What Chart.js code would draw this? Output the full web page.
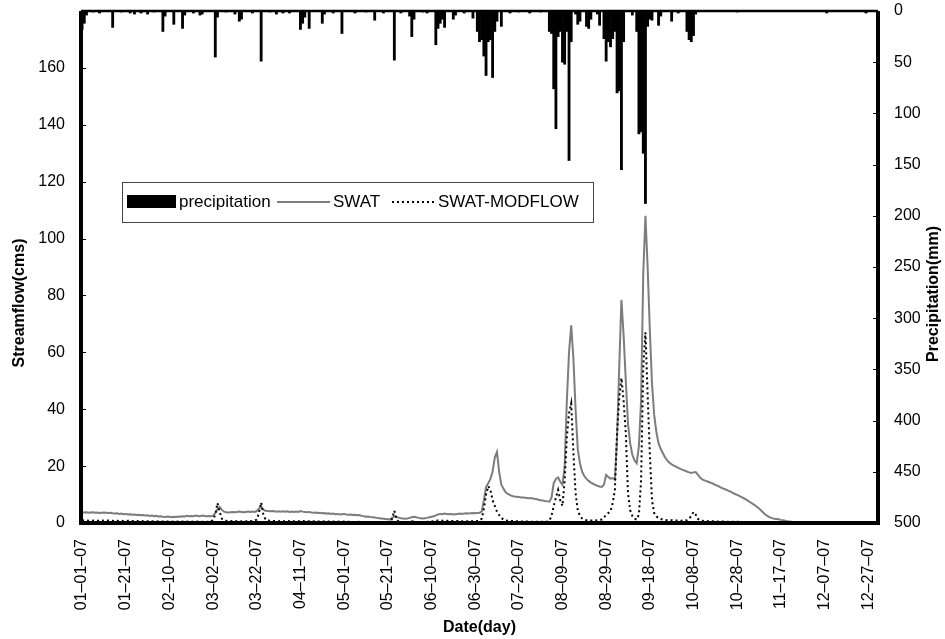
<!DOCTYPE html>
<html>
<head>
<meta charset="utf-8">
<script src="https://cdn.jsdelivr.net/npm/chart.js@4.4.1/dist/chart.umd.min.js"></script>
<style>
  html, body { margin: 0; padding: 0; background: #fff; }
  #wrap { width: 945px; height: 639px; }
</style>
</head>
<body>
<div id="wrap"><canvas id="flujo" width="945" height="639"></canvas></div>
<script>
// ---- daily data, 2007 (day index 0 = 01-01-07) ----

// streamflow, SWAT (cms)
const swat = [
  3.8,3.7,3.8,3.6,3.7,3.8,3.6,3.7,3.5,3.6,      // 0
  3.7,3.6,3.5,3.6,3.4,3.3,3.4,3.2,3.3,3.1,
  3.2,3.0,3.1,2.9,3.0,2.8,2.9,2.7,2.8,2.6,      // 20
  2.7,2.5,2.6,2.4,2.5,2.3,2.4,2.2,2.1,2.3,
  2.2,2.0,2.2,2.1,2.3,2.2,2.4,2.3,2.5,2.4,      // 40
  2.5,2.4,2.6,2.5,2.4,2.6,2.5,2.4,2.5,2.4,
  2.6,3.5,4.8,5.7,4.6,4.0,3.8,3.7,3.8,3.9,      // 60
  3.8,3.9,4.0,3.9,3.8,3.9,4.0,3.9,4.0,3.9,
  4.2,5.0,5.8,4.7,4.3,4.2,4.1,4.2,4.1,4.0,      // 80
  4.1,4.0,4.1,4.0,4.1,3.9,4.0,3.9,4.0,3.9,
  4.2,4.0,3.9,3.8,3.9,3.7,3.6,3.7,3.5,3.6,      // 100
  3.4,3.5,3.3,3.4,3.2,3.3,3.1,3.2,3.0,3.1,
  3.2,3.0,2.9,3.0,2.8,2.9,2.7,2.8,2.5,2.4,      // 120
  2.2,2.3,2.1,2.0,1.9,1.8,1.7,1.6,1.5,1.4,
  1.3,1.2,1.8,2.4,2.1,1.9,1.7,1.6,1.5,1.6,      // 140
  1.8,2.0,2.2,2.0,1.8,1.7,1.6,1.7,1.8,2.0,
  2.2,2.4,2.7,3.0,3.2,3.1,3.3,3.2,3.1,3.2,      // 160
  3.0,3.1,3.2,3.3,3.2,3.3,3.4,3.3,3.4,3.5,
  3.4,3.5,3.6,4.0,8.0,12.7,14.0,15.5,18.0,23.0, // 180
  25.0,18.0,13.5,12.0,10.8,10.2,9.8,9.5,9.3,9.2,
  9.1,9.0,9.0,8.9,8.8,8.7,8.7,8.5,8.4,8.2,      // 200
  8.0,7.9,7.7,7.6,7.5,9.0,14.0,15.5,16.0,14.5,
  13.4,20.0,43.0,60.0,69.5,58.0,40.0,26.0,21.0,18.0, // 220
  16.5,15.5,14.8,14.2,13.8,13.4,13.1,12.8,12.7,13.5,
  16.9,16.2,15.6,15.8,15.2,30.0,55.0,78.5,66.0,50.0, // 240
  35.0,28.0,24.0,22.0,21.0,27.0,43.0,88.0,108.0,90.0,
  68.0,49.0,38.0,32.0,28.0,26.0,24.5,23.0,22.0,21.2, // 260
  20.6,20.2,19.8,19.4,19.0,18.7,18.4,18.1,17.8,17.6,
  17.8,17.9,17.0,16.0,15.3,15.0,14.7,14.4,14.1,13.8, // 280
  13.4,13.1,12.7,12.3,12.0,11.7,11.3,11.0,10.6,10.2,
  9.9,9.5,9.1,8.7,8.3,7.8,7.3,6.8,6.3,5.7,      // 300
  5.1,4.4,3.6,2.9,2.4,2.0,1.7,1.5,1.4,1.3,
  1.1,1.0,0.8,0.6,0.5,0.4,0.3,0.2,0.2,0.2,      // 320
  0.2,0.2,0.1,0.1,0.1,0.1,0.1,0.1,0.1,0.1,
  0.1,0.1,0.1,0.1,0.1,0.1,0.1,0.1,0.1,0.1,      // 340
  0.1,0.1,0.1,0.1,0.1,0.1,0.1,0.1,0.1,0.1,
  0.1,0.1,0.1,0.1,0.1                           // 360
];

// streamflow, SWAT-MODFLOW (cms)
const swatModflow = [
  1.0,0.9,0.9,0.8,0.9,0.8,0.9,0.8,0.8,0.9,      // 0
  0.8,0.8,0.9,0.8,0.8,0.7,0.8,0.7,0.8,0.7,
  0.7,0.8,0.7,0.7,0.6,0.7,0.6,0.7,0.6,0.6,      // 20
  0.6,0.5,0.6,0.5,0.5,0.6,0.5,0.5,0.5,0.5,
  0.5,0.4,0.5,0.4,0.5,0.4,0.5,0.4,0.5,0.4,      // 40
  0.5,0.4,0.4,0.5,0.4,0.4,0.5,0.4,0.4,0.5,
  1.2,3.0,7.0,4.0,1.5,1.0,0.8,0.7,0.7,0.6,      // 60
  0.7,0.6,0.7,0.6,0.7,0.6,0.6,0.7,0.6,0.8,
  1.2,3.5,7.2,3.0,1.2,0.9,0.8,0.7,0.7,0.7,      // 80
  0.6,0.7,0.6,0.6,0.7,0.6,0.6,0.6,0.7,0.6,
  0.8,0.7,0.6,0.6,0.6,0.5,0.6,0.5,0.5,0.5,      // 100
  0.6,0.5,0.5,0.5,0.4,0.5,0.4,0.5,0.4,0.4,
  0.5,0.4,0.4,0.4,0.3,0.4,0.3,0.4,0.3,0.3,      // 120
  0.3,0.3,0.3,0.2,0.3,0.2,0.2,0.3,0.2,0.2,
  0.2,0.3,1.5,4.3,1.2,0.5,0.3,0.3,0.2,0.3,      // 140
  0.4,0.6,0.5,0.4,0.3,0.3,0.3,0.3,0.4,0.4,
  0.5,0.6,0.8,0.9,0.8,0.8,0.9,0.8,0.7,0.7,      // 160
  0.7,0.6,0.7,0.6,0.6,0.7,0.6,0.6,0.7,0.6,
  0.7,0.7,0.8,1.5,5.0,10.0,13.0,11.6,8.0,6.0,   // 180
  4.0,2.8,1.8,1.2,0.9,0.8,0.7,0.7,0.6,0.6,
  0.6,0.5,0.5,0.5,0.5,0.4,0.4,0.4,0.4,0.4,      // 200
  0.4,0.4,0.4,0.5,0.8,2.5,6.0,9.0,11.6,8.0,
  6.0,15.0,30.0,38.6,42.0,25.0,10.5,4.5,2.5,1.6, // 220
  1.2,1.0,0.9,0.9,0.9,0.9,1.0,1.1,1.2,2.0,
  2.8,3.5,4.2,7.0,11.6,31.6,44.0,51.0,43.0,31.6, // 240
  10.5,4.5,2.5,1.5,1.2,3.0,15.0,55.0,67.0,45.0,
  24.6,8.0,3.5,2.3,1.8,1.4,1.2,1.1,1.0,1.0,     // 260
  1.0,0.9,0.9,0.9,0.8,0.8,0.8,1.0,1.5,2.5,
  3.9,3.0,1.5,0.9,0.8,0.7,0.7,0.6,0.6,0.6,      // 280
  0.6,0.5,0.5,0.5,0.5,0.5,0.4,0.4,0.4,0.4,
  0.4,0.4,0.4,0.3,0.3,0.3,0.3,0.3,0.3,0.3,      // 300
  0.3,0.3,0.3,0.3,0.3,0.3,0.3,0.3,0.3,0.3,
  0.3,0.3,0.3,0.2,0.2,0.2,0.2,0.2,0.2,0.2,      // 320
  0.2,0.2,0.2,0.2,0.2,0.2,0.2,0.2,0.2,0.2,
  0.2,0.2,0.2,0.2,0.2,0.1,0.1,0.1,0.1,0.1,      // 340
  0.1,0.1,0.1,0.1,0.1,0.1,0.1,0.1,0.1,0.1,
  0.1,0.1,0.1,0.1,0.1                           // 360
];

// precipitation (mm)
const precip = [
  18,12,4,0,0,1,0,0,2,0,       // 0
  0,0,0,0,16,0,0,0,1,0,
  0,0,2,0,3,0,0,2,0,0,         // 20
  3,0,0,1,0,0,0,20,5,0,
  0,0,13,0,0,0,17,4,0,0,       // 40
  0,2,0,0,4,3,0,0,0,0,
  0,45,6,0,0,0,1,0,0,0,        // 60
  3,0,10,8,0,0,0,0,2,0,
  0,0,49,0,0,0,1,0,0,3,        // 80
  0,0,2,0,0,2,0,0,0,0,
  18,12,6,0,17,0,0,0,0,0,      // 100
  12,3,0,0,0,2,0,0,0,22,
  0,0,0,0,0,2,0,0,0,0,         // 120
  1,0,0,0,9,0,0,0,2,0,
  0,0,0,48,0,0,2,0,0,0,        // 140
  5,25,8,0,0,0,1,0,2,0,
  0,0,33,17,12,8,16,0,0,0,     // 160
  8,4,0,0,0,2,0,0,0,7,
  0,20,30,28,44,63,30,28,65,20, // 180
  10,0,15,0,0,0,2,0,0,0,
  1,0,0,0,0,2,0,0,0,0,         // 200
  1,0,0,0,20,22,76,115,25,20,
  50,52,20,146,30,0,3,13,10,0, // 220
  0,15,17,8,0,0,3,14,0,27,
  49,30,35,27,20,80,78,155,30,0, // 240
  0,0,4,0,20,120,118,139,188,15,
  8,9,0,0,14,5,0,0,0,0,        // 260
  10,0,0,2,0,0,0,20,28,30,
  24,3,0,0,0,0,0,0,0,0,        // 280
  0,0,0,0,0,0,0,0,0,0,
  1,0,0,0,0,0,0,0,0,0,         // 300
  0,0,0,0,0,0,0,0,0,0,
  0,0,0,0,0,0,0,0,0,0,         // 320
  0,0,0,0,0,0,0,0,0,0,
  0,2,0,0,0,0,0,0,0,0,         // 340
  0,0,0,0,0,0,0,0,0,2,
  0,0,0,0,0                    // 360
];

// etiquetas de fecha mm-dd-yy, una por dia
const dias = [];
for (let i = 0; i < precip.length; i++) {
    const d = new Date(2007, 0, 1 + i);
    const mm = String(d.getMonth() + 1).padStart(2, "0");
    const dd = String(d.getDate()).padStart(2, "0");
    dias.push(mm + "\u2013" + dd + "\u201307");
}

const FUENTE = "'Liberation Sans', Arial, sans-serif";
Chart.defaults.font.family = FUENTE;
Chart.defaults.color = "#000";

// marco, marcas de eje, leyenda y titulos verticales
const extras = {
    id: "extras",
    afterDraw(chart) {
        const ctx = chart.ctx;
        const a = chart.chartArea;
        ctx.save();

        // marco
        ctx.strokeStyle = "#000";
        ctx.lineWidth = 4;
        ctx.beginPath();
        ctx.moveTo(a.left, a.top);
        ctx.lineTo(a.left, a.bottom);
        ctx.lineTo(a.right, a.bottom);
        ctx.lineTo(a.right, a.top);
        ctx.stroke();
        ctx.lineWidth = 2.5;
        ctx.beginPath();
        ctx.moveTo(a.left, a.top);
        ctx.lineTo(a.right, a.top);
        ctx.stroke();

        // marcas hacia dentro
        ctx.lineWidth = 1;
        const y = chart.scales.y, y2 = chart.scales.y2;
        y.ticks.forEach(t => {
            const py = Math.round(y.getPixelForValue(t.value)) + 0.5;
            ctx.beginPath(); ctx.moveTo(a.left, py); ctx.lineTo(a.left + 5, py); ctx.stroke();
        });
        y2.ticks.forEach(t => {
            const py = Math.round(y2.getPixelForValue(t.value)) + 0.5;
            ctx.beginPath(); ctx.moveTo(a.right - 5, py); ctx.lineTo(a.right, py); ctx.stroke();
        });

        // leyenda
        const ds = chart.data.datasets;
        ctx.lineWidth = 1;
        ctx.strokeStyle = "#444";
        ctx.strokeRect(122.5, 182.5, 471, 40);
        ctx.font = "17px " + FUENTE;
        ctx.textBaseline = "middle";
        ctx.fillStyle = "#000";
        const ly = 202;
        ctx.fillRect(127, 195, 49, 13);
        ctx.fillText(ds[0].label, 179, ly);
        ctx.strokeStyle = ds[1].borderColor;
        ctx.lineWidth = ds[1].borderWidth;
        ctx.beginPath(); ctx.moveTo(277, ly); ctx.lineTo(330, ly); ctx.stroke();
        ctx.fillText(ds[1].label, 333, ly);
        ctx.strokeStyle = ds[2].borderColor;
        ctx.lineWidth = ds[2].borderWidth;
        ctx.setLineDash(ds[2].borderDash);
        ctx.beginPath(); ctx.moveTo(392, ly); ctx.lineTo(436, ly); ctx.stroke();
        ctx.setLineDash([]);
        ctx.fillText(ds[2].label, 438, ly);

        // titulos de ejes verticales
        ctx.font = "bold 16px " + FUENTE;
        ctx.textAlign = "center";
        ctx.translate(20, 303);
        ctx.rotate(-Math.PI / 2);
        ctx.fillText("Streamflow(cms)", 0, 0);
        ctx.setTransform(1, 0, 0, 1, 0, 0);
        ctx.translate(934, 294);
        ctx.rotate(-Math.PI / 2);
        ctx.fillText("Precipitation(mm)", 0, 0);
        ctx.restore();
    }
};

// ancho/alto fijo del eje, sin relleno extra por las etiquetas
function ajustar(tam, esVertical) {
    return s => {
        if (esVertical) s.width = tam; else s.height = tam;
        s.paddingTop = 0; s.paddingBottom = 0;
        s.paddingLeft = 0; s.paddingRight = 0;
    };
}

new Chart(document.getElementById("flujo"), {
    data: {
        labels: dias,
        datasets: [
            {
                type: "bar",
                label: "precipitation",
                data: precip,
                yAxisID: "y2",
                backgroundColor: "#000",
                barPercentage: 1,
                categoryPercentage: 1,
                order: 3
            },
            {
                type: "line",
                label: "SWAT",
                data: swat,
                yAxisID: "y",
                borderColor: "#7d7d7d",
                borderWidth: 2,
                pointRadius: 0,
                tension: 0,
                order: 2
            },
            {
                type: "line",
                label: "SWAT-MODFLOW",
                data: swatModflow,
                yAxisID: "y",
                borderColor: "#000",
                borderWidth: 2,
                borderDash: [2, 3],
                pointRadius: 0,
                tension: 0,
                order: 1
            }
        ]
    },
    options: {
        responsive: false,
        animation: false,
        devicePixelRatio: 1,
        layout: { padding: { top: 11, left: 1, right: 0, bottom: 0 } },
        plugins: {
            legend: { display: false },
            tooltip: { enabled: false }
        },
        scales: {
            x: {
                grid: { display: false },
                border: { display: false },
                ticks: {
                    autoSkip: false,
                    maxRotation: 90,
                    minRotation: 90,
                    padding: 8,
                    font: { size: 16 },
                    callback: (v, i) => (i % 20 === 0 ? dias[i] : "")
                },
                title: {
                    display: true,
                    text: "Date(day)",
                    font: { size: 16, weight: "bold" },
                    padding: { top: 2, bottom: 2 }
                },
                afterFit: ajustar(116, false)
            },
            y: {
                position: "left",
                min: 0,
                max: 180,
                grid: { display: false, drawTicks: false },
                border: { display: false },
                ticks: {
                    stepSize: 20,
                    padding: 16,
                    font: { size: 16 },
                    callback: v => (v === 180 ? "" : v)
                },
                afterFit: ajustar(80, true)
            },
            y2: {
                position: "right",
                reverse: true,
                min: 0,
                max: 500,
                grid: { display: false, drawTicks: false },
                border: { display: false },
                ticks: {
                    stepSize: 50,
                    padding: 16,
                    font: { size: 16 }
                },
                afterFit: ajustar(67, true)
            }
        }
    },
    plugins: [extras]
});
</script>
</body>
</html>
